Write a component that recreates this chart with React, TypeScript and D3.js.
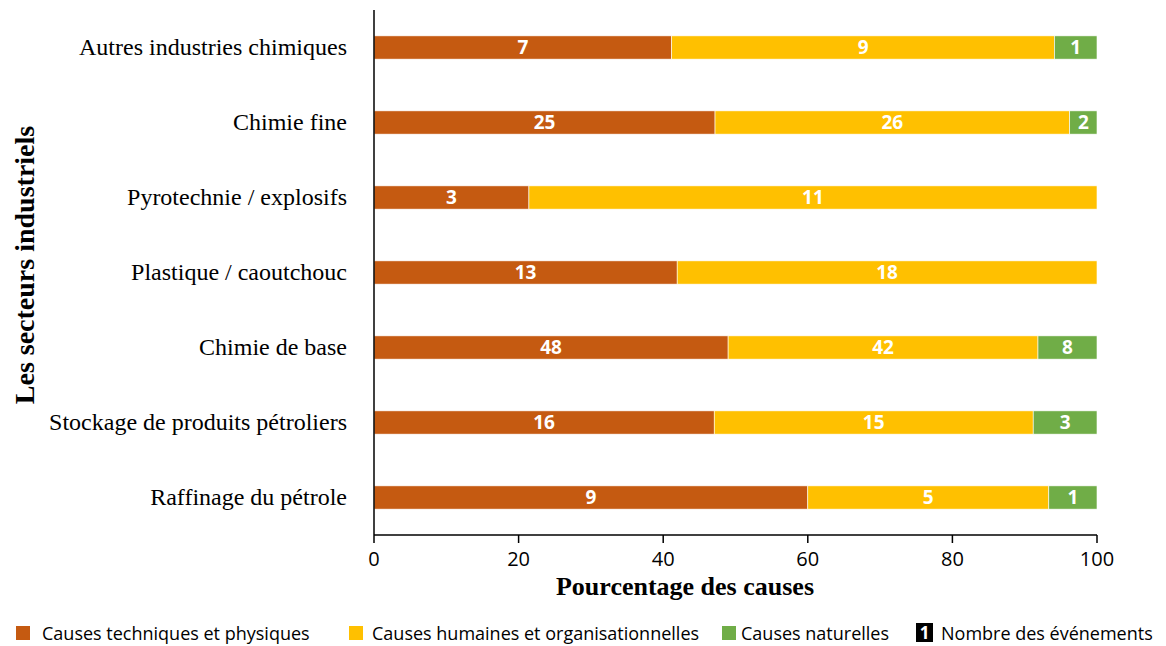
import * as d3 from "d3";
import React from "react";

const sectors = [
  "Autres industries chimiques",
  "Chimie fine",
  "Pyrotechnie / explosifs",
  "Plastique / caoutchouc",
  "Chimie de base",
  "Stockage de produits pétroliers",
  "Raffinage du pétrole",
];
const techniques = [7, 25, 3, 13, 48, 16, 9];
const humaines = [9, 26, 11, 18, 42, 15, 5];
const naturelles = [1, 2, 0, 0, 8, 3, 1];

const seriesNames = [
  "Causes techniques et physiques",
  "Causes humaines et organisationnelles",
  "Causes naturelles",
];
const seriesColors = ["#C55A11", "#FFC000", "#70AD47"];
const xTicks = [0, 20, 40, 60, 80, 100];

const width = 1166;
const height = 646;
const margin = { left: 374, right: 69, top: 10, bottom: 111 };
const sans = "'Open Sans', sans-serif";
const serif = "'Liberation Serif', 'Times New Roman', serif";

export default function App() {
  const rows = sectors.map((s, i) => {
    const vals = [techniques[i], humaines[i], naturelles[i]];
    const total = d3.sum(vals);
    let acc = 0;
    const segs = vals.map((v, k) => {
      const x0 = (acc / total) * 100;
      acc += v;
      return { k, v, x0, x1: (acc / total) * 100 };
    });
    return { s, segs };
  });

  const x = d3
    .scaleLinear()
    .domain([0, 100])
    .range([margin.left, width - margin.right]);
  const y = d3
    .scaleBand()
    .domain(sectors)
    .range([margin.top, height - margin.bottom])
    .paddingInner(0.69)
    .paddingOuter(0.345);
  const axisY = height - margin.bottom;

  // legend layout
  const legend = [
    { x: 16, tx: 42 },
    { x: 349, tx: 372 },
    { x: 722, tx: 741 },
  ];

  return (
    <svg
      width={width}
      height={height}
      style={{ position: "absolute", left: 0, top: 0, background: "#fff" }}
    >
      {rows.map(({ s, segs }) => (
        <g key={s}>
          {segs.map((d) =>
            d.v > 0 ? (
              <g key={d.k}>
                <rect
                  x={x(d.x0)}
                  y={y(s)}
                  width={x(d.x1) - x(d.x0)}
                  height={y.bandwidth()}
                  fill={seriesColors[d.k]}
                  stroke="#fff"
                  strokeWidth={0.6}
                />
                <text
                  x={(x(d.x0) + x(d.x1)) / 2}
                  y={y(s)! + y.bandwidth() / 2}
                  dy="0.36em"
                  textAnchor="middle"
                  fill="#fff"
                  fontWeight="bold"
                  fontSize={19}
                  fontFamily={sans}
                >
                  {d.v}
                </text>
              </g>
            ) : null
          )}
          <text
            x={margin.left - 27}
            y={y(s)! + y.bandwidth() / 2}
            dy="0.33em"
            textAnchor="end"
            fontSize={24}
            fontFamily={serif}
            fill="#000"
          >
            {s}
          </text>
        </g>
      ))}

      <line
        x1={x(0)}
        x2={x(0)}
        y1={margin.top}
        y2={axisY}
        stroke="#000"
        strokeWidth={1.5}
      />
      <line
        x1={x(0)}
        x2={x(100)}
        y1={axisY}
        y2={axisY}
        stroke="#000"
        strokeWidth={1.5}
      />
      {xTicks.map((t) => (
        <g key={t}>
          <line
            x1={x(t)}
            x2={x(t)}
            y1={axisY}
            y2={axisY + 8}
            stroke="#000"
            strokeWidth={1.5}
          />
          <text
            x={x(t)}
            y={axisY + 31}
            textAnchor="middle"
            fontSize={20}
            fontFamily={sans}
            fill="#000"
          >
            {t}
          </text>
        </g>
      ))}
      <text
        x={685}
        y={axisY + 60}
        textAnchor="middle"
        fontSize={26}
        fontWeight="bold"
        fontFamily={serif}
      >
        Pourcentage des causes
      </text>
      <text
        transform={`translate(34, 265) rotate(-90)`}
        textAnchor="middle"
        fontSize={28}
        fontWeight="bold"
        fontFamily={serif}
      >
        Les secteurs industriels
      </text>

      {legend.map((l, i) => (
        <g key={i}>
          <rect x={l.x} y={626} width={14} height={14} fill={seriesColors[i]} />
          <text x={l.tx} y={640} fontSize={18} fontFamily={sans} fill="#000">
            {seriesNames[i]}
          </text>
        </g>
      ))}
      <rect x={916} y={623} width={17} height={19} fill="#000" />
      <text
        x={924.5}
        y={639}
        textAnchor="middle"
        fill="#fff"
        fontSize={17}
        fontWeight="bold"
        fontFamily={sans}
      >
        1
      </text>
      <text x={941} y={640} fontSize={18} fontFamily={sans} fill="#000">
        Nombre des événements
      </text>
    </svg>
  );
}
